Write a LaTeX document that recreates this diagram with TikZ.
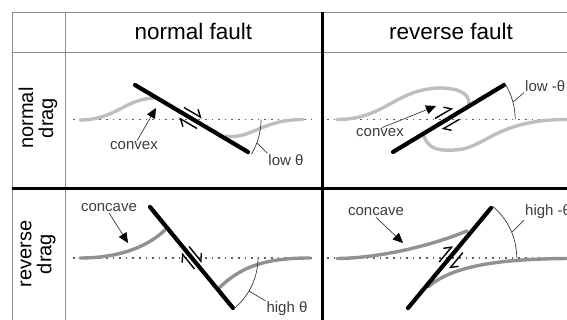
\documentclass[tikz,border=0pt]{standalone}
\usepackage{fontspec}
\setmainfont{Liberation Sans}
\usetikzlibrary{arrows.meta}

\definecolor{tablegray}{RGB}{140,140,140}
\definecolor{dotgray}{RGB}{95,95,95}
\definecolor{paledrag}{RGB}{190,190,190}
\definecolor{deepdrag}{RGB}{145,145,145}
\definecolor{inkgray}{RGB}{60,60,60}

\begin{document}
\begin{tikzpicture}[x=1pt,y=-1pt,
  fault/.style={line width=4.2pt,line cap=round},
  layer/.style={line width=3.4pt,line cap=round},
  level/.style={dotgray,line width=1.8pt,dash pattern=on 1.6pt off 5pt},
  shear/.style={line width=1.4pt,-{Straight Barb[left,length=6pt,width=11pt]}},
  pointer/.style={inkgray,line width=0.7pt,-{Triangle[length=10pt,width=9pt,color=black]}},
  leader/.style={inkgray,line width=0.7pt},
  small/.style={font=\fontsize{15}{17}\selectfont,inner sep=1pt,text=inkgray}]

\useasboundingbox (0,0) rectangle (567,320);

\draw[tablegray,line width=0.8pt] (12,12) -- (567,12);
\draw[tablegray,line width=0.8pt] (12,52) -- (567,52);
\draw[tablegray,line width=0.8pt] (12,12) -- (12,320);
\draw[tablegray,line width=0.8pt] (65,12) -- (65,320);
\draw[line width=3pt] (322,12) -- (322,320);
\draw[line width=3pt] (12,189) -- (567,189);

\node[font=\fontsize{22.5}{24}\selectfont] (hnormal) at (193.5,31) {normal fault};
\node[font=\fontsize{22.5}{24}\selectfont] (hreverse) at (451,31) {reverse fault};
\node[rotate=90,align=center,font=\fontsize{20}{20}\selectfont] (rnormal) at (38,118) {normal\\drag};
\node[rotate=90,align=center,font=\fontsize{20}{20}\selectfont] (rreverse) at (38,254) {reverse\\drag};

\foreach \y in {119.5,257.7}{
  \draw[level] (73,\y) -- (313,\y);
  \draw[level] (327,\y) -- (567,\y);
}

\draw[layer,paledrag] (80,120) .. controls (115,120) and (125,99) .. (154,98);
\draw[layer,paledrag] (226,136) .. controls (250,140) and (262,119.5) .. (303,119.5);
\draw[fault] (135,85) -- (248,152);
\draw[shear] (184,107.5) -- (202,118);
\draw[shear] (197,128.5) -- (179,118);
\node[small] (cvx1) at (134,146) {convex};
\coordinate (cvx1tip) at (156,108);
\draw[pointer] (cvx1.60) -- (cvx1tip);
\draw[leader] (261,119.5) arc[start angle=0,end angle=30.7,radius=68];
\node[small] (lowt1) at (286,160) {low θ};
\coordinate (arc1) at (257,143);
\draw[leader] (lowt1.north west) -- (arc1);

\draw[layer,paledrag] (337,119.5) .. controls (385,119.5) and (395,89) .. (440,88) .. controls (462,88) and (472,96) .. (468,107);
\draw[layer,paledrag] (423,134) .. controls (428,148) and (435,151) .. (455,150) .. controls (485,149) and (495,119.5) .. (567,119.5);
\draw[fault] (393,152) -- (504,85);
\draw[shear] (435,118.5) -- (453,108);
\draw[shear] (459,119.5) -- (442,129.5);
\node[small] (cvx2) at (380,133) {convex};
\coordinate (cvx2tip) at (436,106);
\draw[pointer] (cvx2.70) -- (cvx2tip);
\draw[leader] (515.2,119.5) arc[start angle=0,end angle=-31.3,radius=68];
\node[small,anchor=west] (lowt2) at (524,86) {low -θ};
\coordinate (arc2) at (513,102);
\draw[leader] (lowt2.south west) -- (arc2);

\draw[layer,deepdrag] (80,258) .. controls (115,258) and (145,249) .. (165,230);
\draw[layer,deepdrag] (219,288) .. controls (240,268) and (262,258) .. (310,258);
\draw[fault] (150,207) -- (233,308);
\draw[shear] (189,246.5) -- (202,262.5);
\draw[shear] (194.5,269) -- (181.5,253);
\node[small] (ccv1) at (109,207.5) {concave};
\coordinate (ccv1tip) at (128,243);
\draw[pointer] (ccv1.south) -- (ccv1tip);
\draw[leader] (258,257.7) arc[start angle=0,end angle=50.6,radius=66];
\node[small] (hight1) at (287,309) {high θ};
\coordinate (arc3) at (249,291);
\draw[leader] (hight1.north west) -- (arc3);

\draw[layer,deepdrag] (337,258.5) .. controls (380,258) and (430,246) .. (467,231);
\draw[layer,deepdrag] (428,287) .. controls (450,268) and (490,259) .. (567,258.5);
\draw[fault] (408,308) -- (491,208);
\draw[shear] (439.2,262) -- (452.6,245.8);
\draw[shear] (462.8,252.6) -- (449.4,268.8);
\node[small] (ccv2) at (376,212) {concave};
\coordinate (ccv2tip) at (403,243);
\draw[pointer] (ccv2.south) -- (ccv2tip);
\draw[leader] (516.7,257.7) arc[start angle=0,end angle=-50.3,radius=67];
\node[small,anchor=west] (hight2) at (524,212) {high -θ};
\coordinate (arc4) at (512,232);
\draw[leader] (hight2.south west) -- (arc4);
\end{tikzpicture}
\end{document}
